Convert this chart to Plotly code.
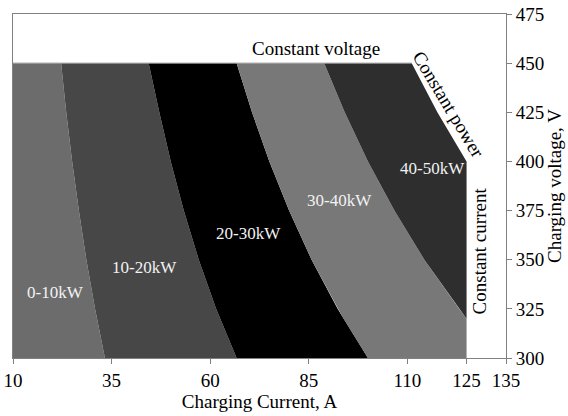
import plotly.graph_objects as go

# Charging voltage grid (V) and boundary currents (A)
voltages = [300, 320, 325, 350, 375, 400, 425, 450]
boundary_10kw = [33.3, 31.3, 30.8, 28.6, 26.7, 25.0, 23.5, 22.2]
boundary_20kw = [66.7, 62.5, 61.5, 57.1, 53.3, 50.0, 47.1, 44.4]
boundary_30kw = [100.0, 93.8, 92.3, 85.7, 80.0, 75.0, 70.6, 66.7]
boundary_40kw = [133.3, 125.0, 123.1, 114.3, 106.7, 100.0, 94.1, 88.9]
boundary_50kw = [166.7, 156.3, 153.8, 142.9, 133.3, 125.0, 117.6, 111.1]

current_min = 10      # A, left edge of the chart
current_limit = 125   # A, constant current limit
voltage_limit = 450   # V, constant voltage limit

band_labels = ["0-10kW", "10-20kW", "20-30kW", "30-40kW", "40-50kW"]
band_label_x = [20.8, 43.4, 69.6, 92.9, 116.4]
band_label_y = [333.5, 346.0, 363.4, 380.0, 396.6]

x_ticks = [10, 35, 60, 85, 110, 125, 135]
y_ticks = [300, 325, 350, 375, 400, 425, 450, 475]

band_colors = ["#6c6c6c", "#474747", "#000000", "#787878", "#2e2e2e"]

boundaries = [[current_min] * len(voltages), boundary_10kw, boundary_20kw,
              boundary_30kw, boundary_40kw, boundary_50kw]

fig = go.Figure()
FONT = "Liberation Serif"

for i in range(5):
    left = [min(c, current_limit) for c in boundaries[i]]
    right = [min(c, current_limit) for c in boundaries[i + 1]]
    xs = right + left[::-1] + [right[0]]
    ys = voltages + voltages[::-1] + [voltages[0]]
    fig.add_trace(go.Scatter(
        x=xs, y=ys, mode="lines", fill="toself",
        fillcolor=band_colors[i], line=dict(width=0, color=band_colors[i]),
        hoverinfo="skip", showlegend=False))

# thin gray edge along the constant-voltage limit
fig.add_trace(go.Scatter(
    x=[current_min, boundary_50kw[-1]], y=[voltage_limit, voltage_limit],
    mode="lines", line=dict(width=1, color="#9a9a9a"),
    hoverinfo="skip", showlegend=False))

for lab, lx, ly in zip(band_labels, band_label_x, band_label_y):
    fig.add_annotation(x=lx, y=ly, text=lab, showarrow=False,
                       font=dict(family=FONT, size=17, color="#f2f2f2"))

fig.add_annotation(x=86.9, y=457.7, text="Constant voltage", showarrow=False,
                   font=dict(family=FONT, size=19, color="black"))
fig.add_annotation(x=120.5, y=429.2, text="Constant power", showarrow=False,
                   textangle=59, font=dict(family=FONT, size=19, color="black"))
fig.add_annotation(x=128.2, y=354.3, text="Constant current", showarrow=False,
                   textangle=-90, font=dict(family=FONT, size=19, color="black"))

axis_common = dict(showline=True, linecolor="#808080", linewidth=1, mirror=True,
                   ticks="outside", ticklen=5, tickcolor="#808080",
                   showgrid=False, zeroline=False, automargin=False,
                   tickfont=dict(family=FONT, size=19, color="black"))

fig.update_layout(
    width=568, height=416,
    margin=dict(l=13, r=62, t=14, b=58),
    paper_bgcolor="white", plot_bgcolor="white",
    showlegend=False,
    xaxis=dict(range=[10, 135], tickvals=x_ticks, ticktext=[str(v) for v in x_ticks],
               title=dict(text="Charging Current, A", standoff=0,
                          font=dict(family=FONT, size=19, color="black")),
               **axis_common),
    yaxis=dict(range=[300, 475], tickvals=y_ticks, ticktext=[str(v) for v in y_ticks],
               side="right",
               title=dict(text="Charging voltage, V", standoff=2,
                          font=dict(family=FONT, size=19, color="black")),
               **axis_common),
)

fig.write_html("out.html")
